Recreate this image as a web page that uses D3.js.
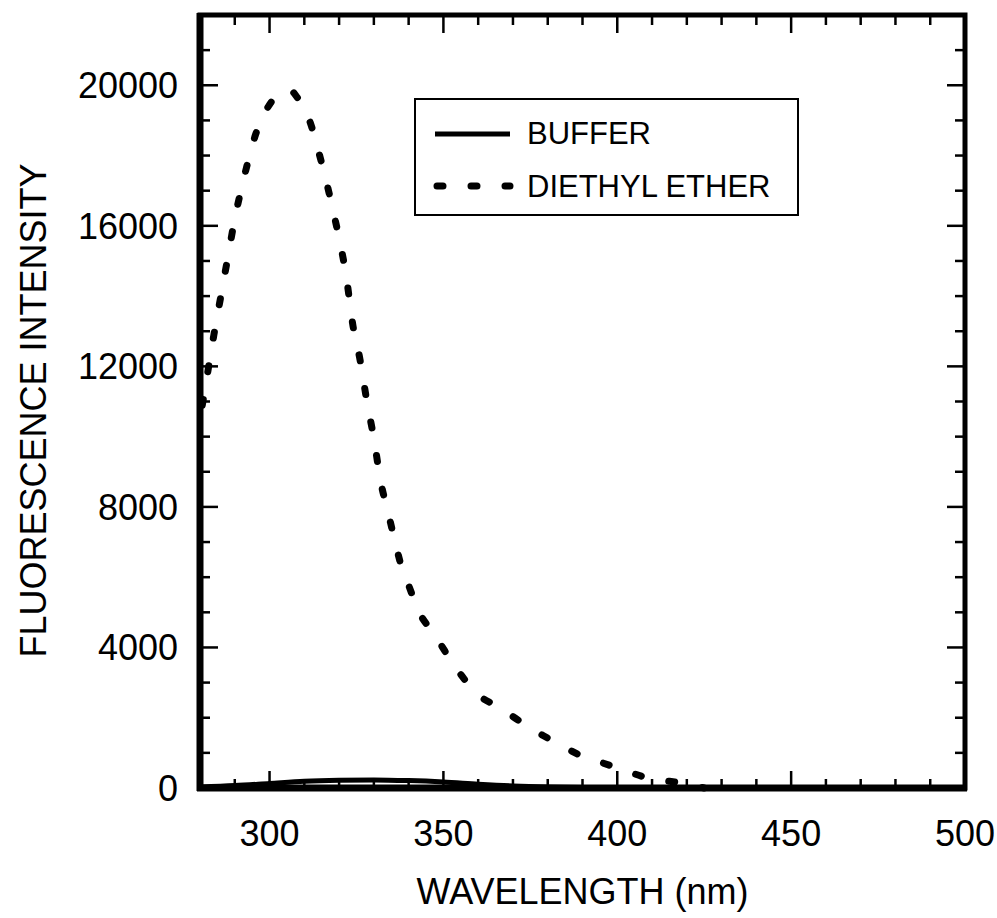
<!DOCTYPE html>
<html>
<head>
<meta charset="utf-8">
<script src="https://cdn.jsdelivr.net/npm/d3@7"></script>
<style>
	html, body { margin: 0; padding: 0; background: #fff; }
	svg text { font-family: "Liberation Sans", Arial, sans-serif; fill: #000; }
</style>
</head>
<body>
<svg id="chart" width="997" height="918"></svg>
<script>
// Data
	var wavelengthEther = [280, 282, 284, 286, 288, 290, 292, 294, 296, 298, 300, 302, 304, 306, 308, 310, 312, 314, 316, 318, 320, 322, 324, 326, 328, 330, 332, 334, 336, 338, 340, 343, 346, 349, 352, 356, 360, 365, 370, 375, 380, 385, 390, 395, 400, 405, 410, 415, 420, 425];
	var intensityEther = [10500, 11700, 12900, 14000, 15100, 16200, 17100, 17900, 18600, 19100, 19450, 19700, 19830, 19850, 19650, 19350, 18850, 18150, 17400, 16550, 15650, 14600, 13150, 12200, 11000, 9950, 8700, 7880, 7050, 6280, 5770, 5000, 4550, 4120, 3650, 3100, 2650, 2350, 2030, 1700, 1420, 1150, 900, 740, 570, 400, 250, 190, 110, 0];

	var wavelengthBuffer = [280, 290, 300, 310, 320, 330, 340, 350, 360, 370, 380, 390, 400, 420, 440];
	var intensityBuffer = [30, 70, 130, 190, 220, 230, 210, 170, 110, 60, 30, 15, 10, 0, 0];

	var xTicks = [300, 350, 400, 450, 500];
	var yTicks = [0, 4000, 8000, 12000, 16000, 20000];
	var legendLabels = ['BUFFER', 'DIETHYL ETHER'];

// Layout
	var svg = d3.select('#chart');
	var plotLeft = 200, plotRight = 965, plotTop = 15, plotBottom = 788;

	var x = d3.scaleLinear().domain([280, 500]).range([plotLeft, plotRight]);
	var y = d3.scaleLinear().domain([0, 22000]).range([plotBottom, plotTop]);

// Curves
	var line = d3.line()
		.x(d => x(d[0]))
		.y(d => y(d[1]))
		.curve(d3.curveMonotoneX);

	svg.append('clipPath').attr('id', 'plot-clip')
		.append('rect')
			.attr('x', plotLeft).attr('y', plotTop)
			.attr('width', plotRight - plotLeft).attr('height', plotBottom - plotTop);

	svg.append('path')
		.datum(wavelengthBuffer.map((w, i) => [w, intensityBuffer[i]]))
		.attr('clip-path', 'url(#plot-clip)')
		.attr('d', line)
		.attr('fill', 'none')
		.attr('stroke', '#000')
		.attr('stroke-width', 5);

	svg.append('path')
		.datum(wavelengthEther.map((w, i) => [w, intensityEther[i]]))
		.attr('d', line)
		.attr('fill', 'none')
		.attr('stroke', '#000')
		.attr('stroke-width', 7)
		.attr('stroke-linecap', 'round')
		.attr('stroke-dasharray', '6,28')
		.attr('stroke-dashoffset', -14);

// Axes (ticks point inward on all four sides)
	var minorX = d3.range(280, 501, 10);
	var minorY = d3.range(0, 22001, 1000);

	function isMajorX(v) { return v % 50 === 0; }
	function isMajorY(v) { return v % 4000 === 0; }

	var ticks = svg.append('g').attr('stroke', '#000').attr('stroke-width', 2.5);

	ticks.selectAll('line.xb').data(minorX).join('line')
		.attr('class', 'xb')
		.attr('x1', d => x(d)).attr('x2', d => x(d))
		.attr('y1', plotBottom).attr('y2', d => plotBottom - (isMajorX(d) ? 17 : 9));

	ticks.selectAll('line.xt').data(minorX).join('line')
		.attr('class', 'xt')
		.attr('x1', d => x(d)).attr('x2', d => x(d))
		.attr('y1', plotTop).attr('y2', d => plotTop + (isMajorX(d) ? 18 : 10));

	ticks.selectAll('line.yl').data(minorY).join('line')
		.attr('class', 'yl')
		.attr('y1', d => y(d)).attr('y2', d => y(d))
		.attr('x1', plotLeft).attr('x2', d => plotLeft + (isMajorY(d) ? 18 : 10));

	ticks.selectAll('line.yr').data(minorY).join('line')
		.attr('class', 'yr')
		.attr('y1', d => y(d)).attr('y2', d => y(d))
		.attr('x1', plotRight).attr('x2', d => plotRight - (isMajorY(d) ? 18 : 10));

	// Frame
	svg.append('rect')
		.attr('x', plotLeft).attr('y', plotTop)
		.attr('width', plotRight - plotLeft).attr('height', plotBottom - plotTop)
		.attr('fill', 'none').attr('stroke', '#000').attr('stroke-width', 5);
	svg.append('line').attr('x1', plotLeft).attr('x2', plotLeft).attr('y1', plotTop - 2).attr('y2', plotBottom + 3)
		.attr('stroke', '#000').attr('stroke-width', 7);
	svg.append('line').attr('x1', plotLeft - 3).attr('x2', plotRight + 2).attr('y1', plotBottom).attr('y2', plotBottom)
		.attr('stroke', '#000').attr('stroke-width', 7);

	// Tick labels
	svg.selectAll('text.xlab').data(xTicks).join('text')
		.attr('class', 'xlab')
		.attr('x', d => x(d)).attr('y', 846)
		.attr('text-anchor', 'middle')
		.style('font-size', '36px')
		.text(d => d);

	svg.selectAll('text.ylab').data(yTicks).join('text')
		.attr('class', 'ylab')
		.attr('x', 178).attr('y', d => y(d) + 13)
		.attr('text-anchor', 'end')
		.style('font-size', '36px')
		.text(d => d);

	// Axis titles
	svg.append('text')
		.attr('x', (plotLeft + plotRight) / 2).attr('y', 904)
		.attr('text-anchor', 'middle')
		.style('font-size', '36px')
		.text('WAVELENGTH (nm)');

	svg.append('text')
		.attr('transform', 'translate(46,' + ((plotTop + plotBottom) / 2 + 9) + ') rotate(-90)')
		.attr('text-anchor', 'middle')
		.style('font-size', '36px')
		.text('FLUORESCENCE INTENSITY');

// Legend
	var legend = svg.append('g');
	legend.append('rect')
		.attr('x', 415).attr('y', 99).attr('width', 383).attr('height', 116)
		.attr('fill', '#fff').attr('stroke', '#000').attr('stroke-width', 2);

	legend.append('line')
		.attr('x1', 435).attr('x2', 510).attr('y1', 134).attr('y2', 134)
		.attr('stroke', '#000').attr('stroke-width', 5);

	legend.append('line')
		.attr('x1', 437).attr('x2', 510).attr('y1', 186).attr('y2', 186)
		.attr('stroke', '#000').attr('stroke-width', 7)
		.attr('stroke-linecap', 'round')
		.attr('stroke-dasharray', '6,28');

	legend.selectAll('text.leglab').data(legendLabels).join('text')
		.attr('class', 'leglab')
		.attr('x', 527).attr('y', (d, i) => 144 + i * 53)
		.style('font-size', '31px')
		.text(d => d);
</script>
</body>
</html>
